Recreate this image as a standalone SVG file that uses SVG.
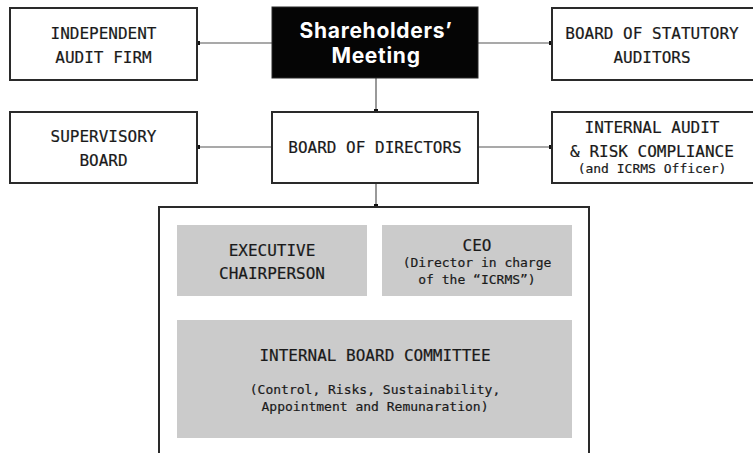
<svg xmlns="http://www.w3.org/2000/svg" width="753" height="453" viewBox="0 0 753 453">
  <style>
    .box { fill: #ffffff; stroke: #2a2a2a; stroke-width: 2; }
    .dark { fill: #050505; stroke: #2a2a2a; stroke-width: 1; }
    .grey { fill: #cbcbcb; }
    .lbl { font-family: "DejaVu Sans Mono", "Liberation Mono", monospace; font-size: 16px; fill: #1a1a1a; stroke: #1a1a1a; stroke-width: 0.2; text-anchor: middle; }
    .sub { font-family: "DejaVu Sans Mono", "Liberation Mono", monospace; font-size: 13px; fill: #1a1a1a; stroke: #1a1a1a; stroke-width: 0.2; text-anchor: middle; }
    .head { font-family: Inter, "Liberation Sans", sans-serif; font-size: 21px; font-weight: 700; letter-spacing: 0.7px; fill: #ffffff; text-anchor: middle; }
    .wire { stroke: #555555; stroke-width: 1.2; fill: none; }
  </style>
  <defs>
    <marker id="dot" viewBox="0 0 4 4" refX="2" refY="2" markerWidth="4" markerHeight="4" markerUnits="userSpaceOnUse">
      <rect width="4" height="4" fill="#111111"/>
    </marker>
  </defs>

  <rect width="753" height="453" fill="#ffffff"/>

  <!-- connectors -->
  <g id="connectors">
    <path class="wire" d="M272 43 H198" marker-end="url(#dot)"/>
    <path class="wire" d="M478 43 H551" marker-end="url(#dot)"/>
    <path class="wire" d="M376 78 V111" marker-end="url(#dot)"/>
    <path class="wire" d="M272 147 H198" marker-end="url(#dot)"/>
    <path class="wire" d="M478 147 H551" marker-end="url(#dot)"/>
    <path class="wire" d="M376 183 V206" marker-end="url(#dot)"/>
  </g>

  <g id="independent-audit-firm">
    <rect class="box" x="10" y="8" width="187" height="72"/>
    <text class="lbl" x="103.5" y="39">INDEPENDENT</text>
    <text class="lbl" x="103.5" y="63">AUDIT FIRM</text>
  </g>

  <g id="shareholders-meeting">
    <rect class="dark" x="272" y="7" width="206" height="71"/>
    <text class="head" x="376" y="38">Shareholders’</text>
    <text class="head" x="376" y="63">Meeting</text>
  </g>

  <g id="board-of-statutory-auditors">
    <rect class="box" x="552" y="8" width="210" height="72"/>
    <text class="lbl" x="652" y="39">BOARD OF STATUTORY</text>
    <text class="lbl" x="652" y="63">AUDITORS</text>
  </g>

  <g id="supervisory-board">
    <rect class="box" x="10" y="112" width="187" height="71"/>
    <text class="lbl" x="103.5" y="142">SUPERVISORY</text>
    <text class="lbl" x="103.5" y="166">BOARD</text>
  </g>

  <g id="board-of-directors">
    <rect class="box" x="272" y="112" width="206" height="71"/>
    <text class="lbl" x="375" y="153">BOARD OF DIRECTORS</text>
  </g>

  <g id="internal-audit">
    <rect class="box" x="552" y="112" width="210" height="71"/>
    <text class="lbl" x="652" y="133">INTERNAL AUDIT</text>
    <text class="lbl" x="652" y="157">&amp; RISK COMPLIANCE</text>
    <text class="sub" x="652" y="173">(and ICRMS Officer)</text>
  </g>

  <g id="board-composition">
    <rect class="box" x="159" y="207" width="430" height="260"/>
  </g>

  <g id="executive-chairperson">
    <rect class="grey" x="177" y="225" width="190" height="71"/>
    <text class="lbl" x="272" y="256">EXECUTIVE</text>
    <text class="lbl" x="272" y="279">CHAIRPERSON</text>
  </g>

  <g id="ceo">
    <rect class="grey" x="382" y="225" width="190" height="71"/>
    <text class="lbl" x="477" y="251">CEO</text>
    <text class="sub" x="477" y="267">(Director in charge</text>
    <text class="sub" x="477" y="284">of the “ICRMS”)</text>
  </g>

  <g id="internal-board-committee">
    <rect class="grey" x="177" y="320" width="395" height="118"/>
    <text class="lbl" x="375" y="361">INTERNAL BOARD COMMITTEE</text>
    <text class="sub" x="375" y="394">(Control, Risks, Sustainability,</text>
    <text class="sub" x="375" y="411">Appointment and Remunaration)</text>
  </g>
</svg>
